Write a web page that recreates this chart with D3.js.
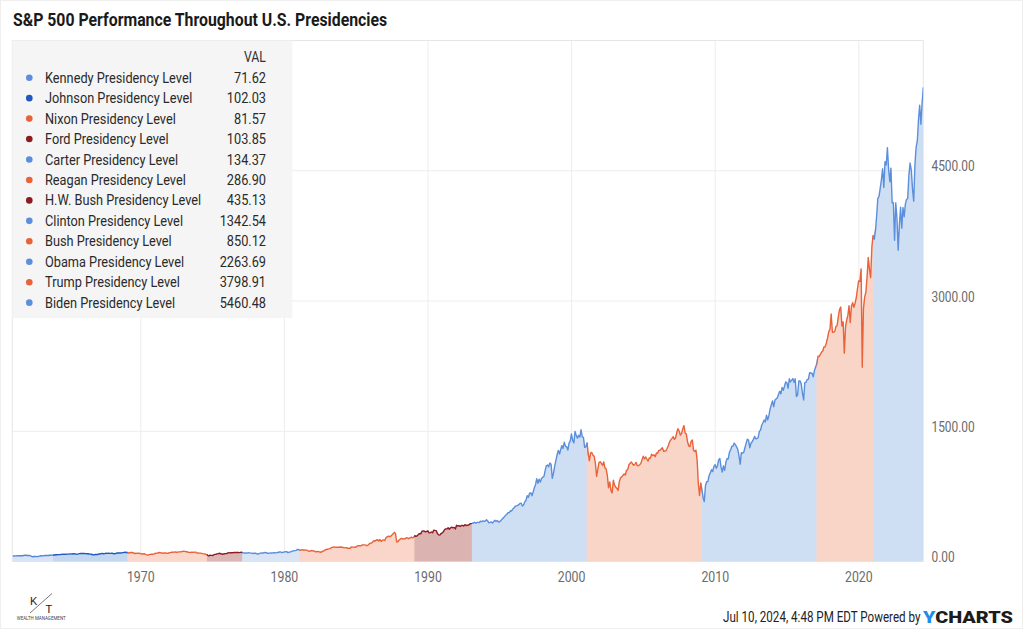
<!DOCTYPE html>
<html><head><meta charset="utf-8">
<script src="https://cdn.jsdelivr.net/npm/d3@7"></script>
<style>html,body{margin:0;padding:0;background:#fff;} svg{display:block;font-family:Roboto,"Liberation Sans",sans-serif;}</style>
</head><body><svg id="c" width="1024" height="631"></svg>
<script>
// ---------------- DATA ----------------
const titleText = "S&P 500 Performance Throughout U.S. Presidencies";
const presidents = ["Kennedy","Johnson","Nixon","Ford","Carter","Reagan","H.W. Bush","Clinton","Bush","Obama","Trump","Biden"];
const termStarts = ["1961-01-20","1963-11-22","1969-01-20","1974-08-09","1977-01-20","1981-01-20","1989-01-20","1993-01-20","2001-01-20","2009-01-20","2017-01-20","2021-01-20"];
const dataEnd = "2024-06-28";
const legendValues = ["71.62","102.03","81.57","103.85","134.37","286.90","435.13","1342.54","850.12","2263.69","3798.91","5460.48"];
const lineColors = ["#4f86d8","#1f57c3","#e8623a","#8c1c24","#5b8fdb","#e8623a","#8c1c24","#5b8fdb","#e8623a","#5b8fdb","#e8623a","#5b8fdb"];
const dotColors  = ["#5b8fdb","#1f57c3","#e8623a","#8c1c24","#5b8fdb","#e8623a","#8c1c24","#5b8fdb","#e8623a","#5b8fdb","#e8623a","#5b8fdb"];
const fillColors = ["#d8e4f5","#c4d7f1","#f9d7ca","#dcb6b4","#d9e4f4","#f9d6c9","#dbb3b0","#cfdff3","#f9d5c8","#cfdff3","#f9d5c8","#cfdff3"];

// monthly S&P 500 levels, each array starts at the given month
const spx1960s = [61.8,63.4,65.1,65.3,66.6,64.6,66.8,68.1,66.7,68.6,71.3,71.6,
 68.8,70.0,69.6,65.2,59.6,54.8,58.2,59.1,56.3,56.5,62.3,63.1,
 66.2,64.3,66.6,69.8,70.8,69.4,69.1,72.5,71.7,74.0,73.2,75.0,
 77.0,77.8,79.0,79.5,80.4,81.7,83.2,81.8,84.2,84.9,84.4,84.8,
 87.6,87.4,86.2,89.1,88.4,84.1,85.3,87.2,90.0,92.4,91.6,92.4,
 92.9,91.2,89.2,91.1,86.1,84.7,83.6,77.1,76.6,80.2,80.5,80.3,
 86.6,86.8,90.2,94.0,89.1,90.6,94.8,93.6,96.7,93.9,94.0,96.5,
 92.2,89.4,90.2,97.6,98.7,99.6,97.7,98.9,102.7,103.4,108.4,103.9,
 103.0,98.1,101.5,103.7,103.5,97.7,91.8,95.5,93.1,97.2,93.8,92.1];
const spx1970s = [85.0,89.5,89.6,81.5,76.6,72.7,78.1,81.5,84.2,83.3,87.2,92.2,
 95.9,96.8,100.3,104.0,99.6,98.7,95.6,99.0,98.3,94.2,94.0,102.1,
 103.9,106.6,107.2,107.7,109.5,107.1,107.4,111.1,110.6,111.6,116.7,118.1,
 116.0,111.7,111.5,107.0,105.0,104.3,108.2,104.3,108.4,108.3,96.0,97.6,
 96.6,96.2,94.0,90.3,87.3,86.0,79.3,72.2,63.5,73.9,70.0,68.6,
 77.0,81.6,83.4,87.3,91.2,95.2,88.8,86.9,83.9,89.0,91.2,90.2,
 100.9,99.7,102.8,101.6,100.2,104.3,103.4,102.9,105.2,102.9,102.1,107.5,
 102.0,99.8,98.4,98.4,96.1,100.5,98.9,96.8,96.5,92.3,94.8,95.1,
 89.3,87.0,89.2,96.8,97.2,95.5,100.7,103.3,102.5,93.2,94.7,96.1,
 99.9,96.3,101.6,101.8,99.1,102.9,103.8,109.3,109.3,101.8,106.2,107.9];
const spx1980s = [114.2,113.7,102.1,106.3,111.2,114.2,121.7,122.4,125.5,127.5,140.5,135.8,
 129.6,131.3,136.0,132.8,132.6,131.2,130.9,122.8,116.2,121.9,126.4,122.6,
 120.4,113.1,112.0,116.4,111.9,109.6,107.1,119.5,120.4,133.7,138.5,140.6,
 145.3,148.1,153.0,164.4,162.4,168.1,162.6,164.4,166.1,163.6,166.4,164.9,
 163.4,157.1,159.2,160.1,150.6,153.2,150.7,166.7,166.1,166.1,163.6,167.2,
 179.6,181.2,180.7,179.8,189.6,191.9,190.9,188.6,182.1,189.8,202.2,211.3,
 211.8,226.9,238.9,235.5,247.4,250.8,236.1,252.9,231.3,244.0,249.2,242.2,
 274.1,284.2,291.7,288.4,290.1,304.0,318.7,336.0,321.8,224.8,230.3,247.1,
 257.1,267.8,258.9,261.3,262.2,273.5,272.0,261.5,271.9,279.0,273.7,277.7,
 297.5,288.9,294.9,309.6,320.5,318.0,346.1,351.5,349.2,340.4,346.0,353.4];
const spx1990s = [329.1,331.9,339.9,330.8,361.2,358.0,356.2,322.6,306.1,304.0,322.2,330.2,
 343.9,367.1,375.2,375.4,389.8,371.2,387.8,395.4,387.9,392.5,375.2,417.1,
 408.8,412.7,403.7,415.0,415.4,408.1,424.2,414.0,417.8,418.7,431.4,435.7,
 438.8,443.4,451.7,440.2,450.2,450.5,448.1,463.6,458.9,467.8,461.8,466.5,
 481.6,467.1,445.8,450.9,456.5,444.3,458.3,475.5,462.7,472.4,453.7,459.3,
 470.4,487.4,500.7,514.7,533.4,544.8,562.1,561.9,584.4,581.5,605.4,615.9,
 636.0,640.4,645.5,654.2,669.1,670.6,640.0,652.0,687.3,705.3,757.0,740.7,
 786.2,790.8,757.1,801.3,848.3,885.1,954.3,899.5,947.3,914.6,955.4,970.4,
 980.3,1049.3,1101.8,1111.8,1090.8,1133.8,1120.7,957.3,1017.0,1098.7,1163.6,1229.2,
 1279.6,1238.3,1286.4,1335.2,1301.8,1372.7,1328.7,1320.4,1282.7,1362.9,1388.9,1469.3];
const spx2000s = [1394.5,1366.4,1498.6,1452.4,1420.6,1454.6,1430.8,1517.7,1436.5,1429.4,1315.0,1320.3,
 1366.0,1239.9,1160.3,1249.5,1255.8,1224.4,1211.2,1133.6,980.0,1059.8,1139.5,1148.1,
 1130.2,1106.7,1147.4,1076.9,1067.1,989.8,850.0,916.1,815.3,790.0,936.3,879.8,
 855.7,841.2,820.0,916.9,963.6,974.5,990.3,1008.0,996.0,1050.7,1058.2,1111.9,
 1131.1,1144.9,1126.2,1107.3,1120.7,1140.8,1101.7,1104.2,1114.6,1130.2,1173.8,1211.9,
 1181.3,1203.6,1180.6,1156.9,1191.5,1191.3,1234.2,1220.3,1228.8,1207.0,1249.5,1248.3,
 1280.1,1280.7,1294.8,1310.6,1270.1,1270.2,1276.7,1303.8,1335.9,1377.9,1400.6,1418.3,
 1438.2,1406.8,1420.9,1482.4,1530.6,1503.4,1455.3,1474.0,1526.8,1565.0,1481.1,1468.4,
 1378.6,1330.6,1322.7,1385.6,1400.4,1280.0,1267.4,1282.8,1166.4,900.0,760.0,903.3,
 825.9,735.1,690.0,872.8,919.1,919.3,987.5,1020.6,1057.1,1036.2,1095.6,1115.1];
const spx2010s = [1073.9,1104.5,1169.4,1186.7,1089.4,1030.7,1101.6,1049.3,1141.2,1183.3,1180.6,1257.6,
 1286.1,1327.2,1325.8,1363.6,1345.2,1320.6,1292.3,1218.9,1120.0,1253.3,1247.0,1257.6,
 1312.4,1365.7,1408.5,1397.9,1310.3,1362.2,1379.3,1406.6,1440.7,1412.2,1416.2,1426.2,
 1498.1,1514.7,1569.2,1597.6,1630.7,1606.3,1685.7,1633.0,1681.6,1756.5,1805.8,1848.4,
 1782.6,1859.5,1872.3,1884.0,1923.6,1960.2,1930.7,2003.4,1972.3,2018.1,2067.6,2058.9,
 1995.0,2104.5,2067.9,2085.5,2107.4,2063.1,2103.8,1900.0,1920.0,2079.4,2080.4,2043.9,
 1940.2,1860.0,2059.7,2065.3,2097.0,2098.9,2173.6,2171.0,2168.3,2126.2,2198.8,2238.8,
 2278.9,2363.6,2362.7,2384.2,2411.8,2423.4,2470.3,2471.7,2519.4,2575.3,2647.6,2673.6,
 2850.0,2640.0,2640.9,2648.1,2705.3,2718.4,2816.3,2901.5,2930.0,2711.7,2760.2,2400.0,
 2704.1,2784.5,2834.4,2945.8,2752.1,2941.8,2980.4,2926.5,2976.7,3037.6,3141.0,3230.8];
const spx2020s = [3225.5,3370.0,2237.0,2912.4,3044.3,3100.3,3271.1,3500.3,3363.0,3270.0,3621.6,3756.1,
 3714.2,3811.2,3972.9,4181.2,4204.1,4297.5,4395.3,4522.7,4307.5,4605.4,4567.0,4766.2,
 4515.6,4373.9,4530.4,4131.9,4132.2,3700.0,4130.3,3955.0,3585.6,3872.0,4080.1,3839.5,
 4076.6,3970.2,4109.3,4169.5,4179.8,4450.4,4589.0,4507.7,4288.1,4150.0,4567.8,4769.8,
 4845.7,5096.3,5254.4,5035.7,5277.5,5460.5];
const seriesBlocks = [[1961,spx1960s],[1970,spx1970s],[1980,spx1980s],[1990,spx1990s],[2000,spx2000s],[2010,spx2010s],[2020,spx2020s]];

const yTicks = [0,1500,3000,4500];
const yTickLabels = ["0.00","1500.00","3000.00","4500.00"];
const xTicks = [1970,1980,1990,2000,2010,2020];
const footerText = "Jul 10, 2024, 4:48 PM EDT Powered by";

// ---------------- BUILD ----------------
const SX = 0.85;
const parse = d3.utcParse("%Y-%m-%d");
const data = [];
seriesBlocks.forEach(([yr, arr]) => arr.forEach((v, i) => data.push({date: new Date(Date.UTC(yr, i, 28)), v})));
const starts = termStarts.map(parse);
const endDate = parse(dataEnd);

const L = 12.3, R = 923.3, T0 = 40.5, B = 561.5;
const x = d3.scaleUtc().domain([starts[0], endDate]).range([L, R]);
const y = d3.scaleLinear().domain([0, 6000]).range([B, T0]);

const svg = d3.select("#c");
svg.append("rect").attr("x",0.5).attr("y",0.5).attr("width",1022).attr("height",628).attr("fill","#fff").attr("stroke","#efefef");

function T(g, px, py, s, size, anchor, color, weight, sx) {
  return g.append("text").attr("transform", `translate(${px},${py}) scale(${sx||SX},1)`)
    .attr("text-anchor", anchor || "start").attr("font-size", size).attr("fill", color)
    .attr("font-weight", weight || 400).text(s);
}

// title
T(svg, 13, 26, titleText, 18, "start", "#1a1a1a", 700, 0.88);

// grid
const grid = svg.append("g");
grid.selectAll(".hy").data(yTicks.slice(1)).join("line")
  .attr("x1", L).attr("x2", R).attr("y1", d => y(d)).attr("y2", d => y(d))
  .attr("stroke", "#ededed").attr("stroke-width", 1);
grid.selectAll(".vx").data(xTicks).join("line")
  .attr("x1", d => x(new Date(Date.UTC(d,0,1)))).attr("x2", d => x(new Date(Date.UTC(d,0,1))))
  .attr("y1", T0).attr("y2", B).attr("stroke", "#ededed").attr("stroke-width", 1);
svg.append("rect").attr("x", L).attr("y", T0).attr("width", R - L).attr("height", B - T0)
  .attr("fill", "none").attr("stroke", "#e6e6e6");

// series segments (each presidency = the full series clipped to its term)
const area = d3.area().x(d => x(d.date)).y0(y(0)).y1(d => y(d.v));
const line = d3.line().x(d => x(d.date)).y(d => y(d.v));
const defs = svg.append("defs");
presidents.forEach((p, i) => {
  const s = starts[i], e = i < presidents.length - 1 ? starts[i + 1] : endDate;
  const last = i === presidents.length - 1;
  defs.append("clipPath").attr("id", "cp" + i).append("rect")
    .attr("x", x(s)).attr("y", 0).attr("width", Math.max(0, x(e) - x(s) + (last ? 0 : 0.8))).attr("height", B + 0.3);
});
presidents.forEach((p, i) => {
  svg.append("path").datum(data).attr("d", area).attr("fill", fillColors[i]).attr("clip-path", `url(#cp${i})`);
});
presidents.forEach((p, i) => {
  svg.append("path").datum(data).attr("d", line).attr("fill", "none").attr("stroke", lineColors[i])
    .attr("stroke-width", 1.4).attr("stroke-linejoin", "round").attr("clip-path", `url(#cp${i})`);
});

// axes labels
const axg = svg.append("g");
yTicks.forEach((t, i) => T(axg, 931.5, y(t) + 0.5, yTickLabels[i], 14, "start", "#6b6b6b"));
xTicks.forEach(t => T(axg, x(new Date(Date.UTC(t,0,1))), 582, String(t), 14.5, "middle", "#6b6b6b"));

// legend
const lg = svg.append("g");
lg.append("rect").attr("x", L).attr("y", T0).attr("width", 280).attr("height", 277.5).attr("fill", "#f4f4f4").attr("fill-opacity", 0.93);
T(lg, 266, 61.8, "VAL", 14.5, "end", "#333");
presidents.forEach((p, i) => {
  const cy = 77.7 + i * 20.45;
  lg.append("circle").attr("cx", 29.3).attr("cy", cy).attr("r", 3.3).attr("fill", dotColors[i]);
  T(lg, 45, cy + 5, p + " Presidency Level", 15, "start", "#2a2a2a");
  T(lg, 266, cy + 5, legendValues[i], 15, "end", "#2a2a2a");
});

// footer
T(svg, 920.5, 621.5, footerText, 14, "end", "#222", 400, 0.83);
const yc = svg.append("text").attr("x", 923).attr("y", 623).attr("font-size", 16.5).attr("font-weight", 900)
  .attr("textLength", 90).attr("lengthAdjust", "spacingAndGlyphs");
yc.append("tspan").attr("fill", "#1f8ceb").text("Y");
yc.append("tspan").attr("fill", "#1c1c1c").text("CHARTS");

// logo
const lo = svg.append("g");
lo.append("text").attr("x", 30).attr("y", 604.5).attr("font-size", 11).attr("fill", "#222").attr("font-family", "Liberation Sans").text("K");
lo.append("text").attr("x", 45.5).attr("y", 613).attr("font-size", 11).attr("fill", "#222").attr("font-family", "Liberation Sans").text("T");
lo.append("line").attr("x1", 30).attr("y1", 613).attr("x2", 52).attr("y2", 593.5).attr("stroke", "#555").attr("stroke-width", 0.8);
lo.append("text").attr("x", 16.7).attr("y", 619.5).attr("font-size", 4.5).attr("fill", "#444")
  .attr("textLength", 49).attr("lengthAdjust", "spacingAndGlyphs").text("WEALTH MANAGEMENT");
</script></body></html>
